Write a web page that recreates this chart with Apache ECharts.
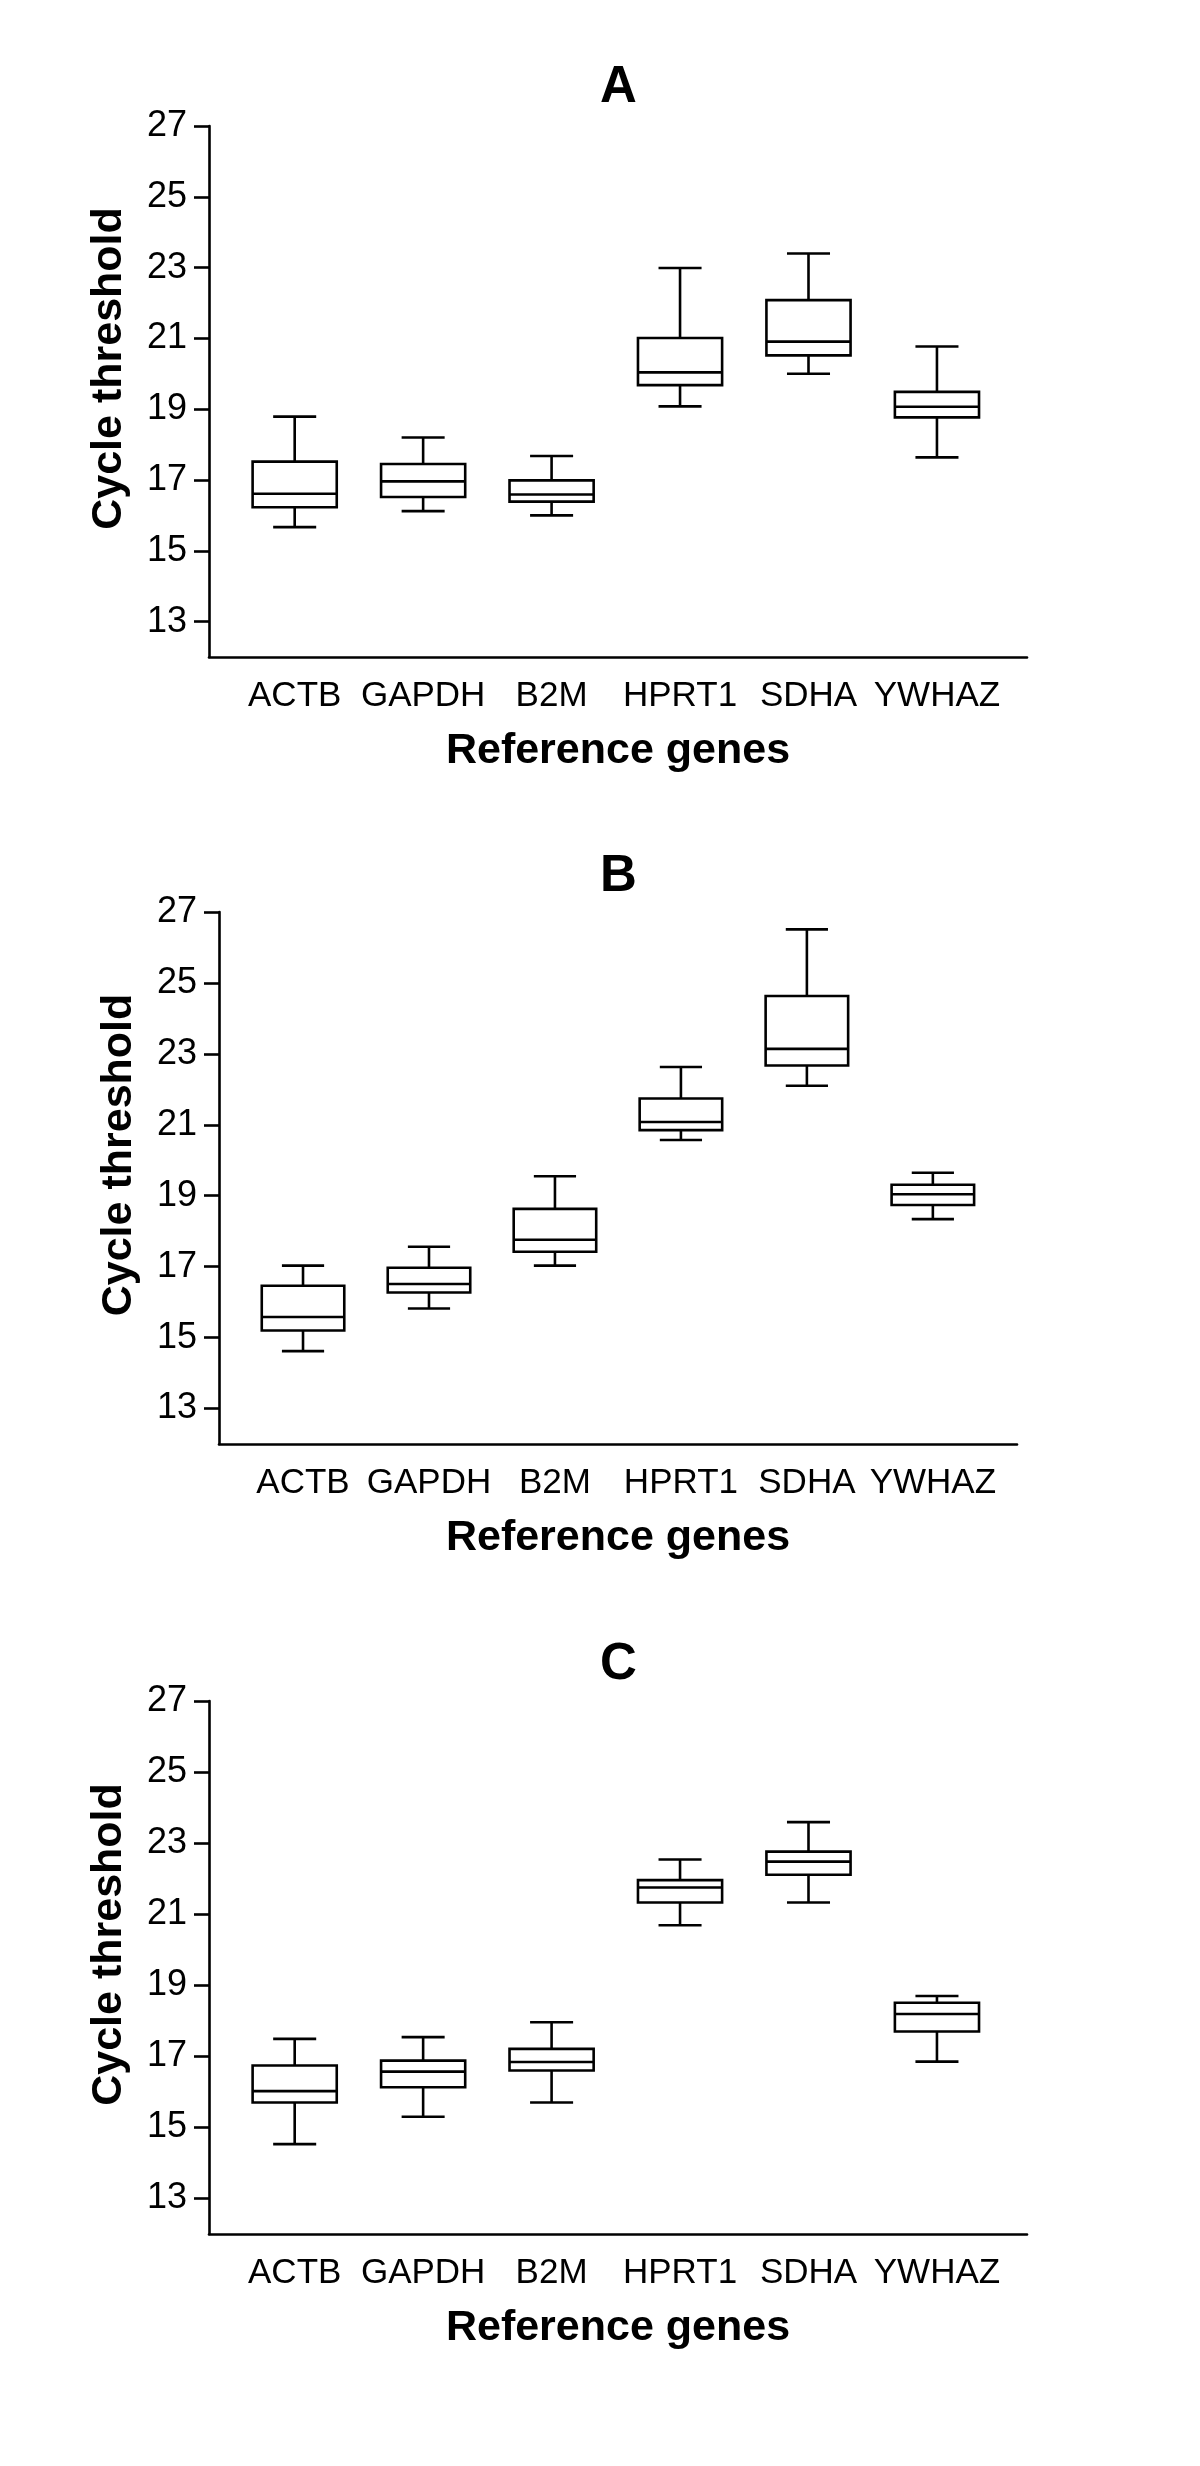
<!DOCTYPE html>
<html>
<head>
<meta charset="utf-8">
<script src="https://cdn.jsdelivr.net/npm/echarts@6/dist/echarts.min.js"></script>
<style>
html,body{margin:0;padding:0;background:#fff;}
#chart{width:1200px;height:2466px;}
</style>
</head>
<body>
<div id="chart"></div>
<script>
// ---------- data ----------
const genes = ['ACTB', 'GAPDH', 'B2M', 'HPRT1', 'SDHA', 'YWHAZ'];
const panelLetters = ['A', 'B', 'C'];
const yTicks = [13, 15, 17, 19, 21, 23, 25, 27];
const yAxisTitle = 'Cycle threshold';
const xAxisTitle = 'Reference genes';

// Panel A
const aMin    = [15.67, 16.12, 16.00, 19.08, 20.00, 17.64];
const aQ1     = [16.23, 16.52, 16.39, 19.68, 20.52, 18.77];
const aMedian = [16.61, 16.96, 16.59, 20.04, 20.91, 19.07];
const aQ3     = [17.52, 17.45, 16.99, 21.01, 22.08, 19.49];
const aMax    = [18.79, 18.20, 17.68, 22.99, 23.40, 20.77];

// Panel B
const bMin    = [14.62, 15.82, 17.03, 20.57, 22.10, 18.34];
const bQ1     = [15.20, 16.27, 17.42, 20.85, 22.67, 18.74];
const bMedian = [15.58, 16.51, 17.76, 21.08, 23.14, 19.04];
const bQ3     = [16.46, 16.97, 18.63, 21.74, 24.63, 19.31];
const bMax    = [17.03, 17.56, 19.55, 22.63, 26.51, 19.65];

// Panel C
const cMin    = [14.53, 15.30, 15.70, 20.69, 21.33, 16.85];
const cQ1     = [15.70, 16.13, 16.60, 21.33, 22.11, 17.70];
const cMedian = [16.02, 16.57, 16.84, 21.75, 22.48, 18.19];
const cQ3     = [16.74, 16.88, 17.21, 21.96, 22.76, 18.51];
const cMax    = [17.49, 17.54, 17.96, 22.54, 23.59, 18.70];

// ---------- layout ----------
const panels = [
  {min: aMin, q1: aQ1, med: aMedian, q3: aQ3, max: aMax},
  {min: bMin, q1: bQ1, med: bMedian, q3: bQ3, max: bMax},
  {min: cMin, q1: cQ1, med: cMedian, q3: cQ3, max: cMax}
];
const gridBoxes = [
  {left: 209, top: 126, width: 818, height: 531},
  {left: 219, top: 912, width: 798, height: 532},
  {left: 209, top: 1701, width: 818, height: 533}
];
const xRanges = [[0.333, 6.701], [0.333, 6.668], [0.333, 6.701]];
const titleTops = [62, 851, 1639];

const FONT = '"Liberation Sans", Arial, sans-serif';
const LW = 2.6;
const catPositions = genes.map((g, i) => i + 1);

function renderBox(params, api) {
  const x = api.value(0);
  const band = api.size([1, 0])[0];
  const bw = band * 0.655;
  const cw = band * 0.335;
  const pMin = api.coord([x, api.value(1)]);
  const pQ1 = api.coord([x, api.value(2)]);
  const pMed = api.coord([x, api.value(3)]);
  const pQ3 = api.coord([x, api.value(4)]);
  const pMax = api.coord([x, api.value(5)]);
  const cx = pMed[0];
  const st = {stroke: '#000', lineWidth: LW, fill: null};
  return {
    type: 'group',
    children: [
      {type: 'rect', shape: {x: cx - bw / 2, y: pQ3[1], width: bw, height: pQ1[1] - pQ3[1]},
       style: {stroke: '#000', lineWidth: LW, fill: 'rgba(0,0,0,0)'}},
      {type: 'line', shape: {x1: cx - bw / 2, y1: pMed[1], x2: cx + bw / 2, y2: pMed[1]}, style: st},
      {type: 'line', shape: {x1: cx, y1: pQ3[1], x2: cx, y2: pMax[1]}, style: st},
      {type: 'line', shape: {x1: cx, y1: pQ1[1], x2: cx, y2: pMin[1]}, style: st},
      {type: 'line', shape: {x1: cx - cw / 2, y1: pMax[1], x2: cx + cw / 2, y2: pMax[1]}, style: st},
      {type: 'line', shape: {x1: cx - cw / 2, y1: pMin[1], x2: cx + cw / 2, y2: pMin[1]}, style: st}
    ]
  };
}

const option = {
  backgroundColor: '#fff',
  animation: false,
  title: panelLetters.map((t, i) => ({
    text: t,
    left: 600,
    top: titleTops[i],
    padding: 0,
    textStyle: {fontSize: 51, fontWeight: 'bold', color: '#000', fontFamily: FONT}
  })),
  grid: gridBoxes.map(g => Object.assign({containLabel: false}, g)),
  xAxis: gridBoxes.map((g, i) => ({
    gridIndex: i,
    type: 'value',
    min: xRanges[i][0],
    max: xRanges[i][1],
    axisLine: {show: true, onZero: false, lineStyle: {color: '#000', width: LW}},
    axisTick: {show: false},
    splitLine: {show: false},
    axisLabel: {
      customValues: catPositions,
      formatter: v => genes[Math.round(v) - 1],
      color: '#000', fontSize: 35, fontFamily: FONT, margin: 22
    },
    name: xAxisTitle,
    nameLocation: 'middle',
    nameGap: 73,
    nameTextStyle: {fontSize: 43, fontWeight: 'bold', color: '#000', fontFamily: FONT}
  })),
  yAxis: gridBoxes.map((g, i) => ({
    gridIndex: i,
    type: 'value',
    min: 12,
    max: 27,
    axisLine: {show: true, onZero: false, lineStyle: {color: '#000', width: LW}},
    axisTick: {show: true, customValues: yTicks, length: 15, lineStyle: {color: '#000', width: LW}},
    axisLabel: {customValues: yTicks, color: '#000', fontSize: 36, fontFamily: FONT, margin: 22},
    splitLine: {show: false},
    name: yAxisTitle,
    nameLocation: 'middle',
    nameGap: 78,
    nameTextStyle: {fontSize: 43, fontWeight: 'bold', color: '#000', fontFamily: FONT, padding: [0, 0, 0, 46]}
  })),
  series: panels.map((p, i) => ({
    type: 'custom',
    xAxisIndex: i,
    yAxisIndex: i,
    renderItem: renderBox,
    encode: {x: 0, y: [1, 2, 3, 4, 5]},
    data: genes.map((g, k) => [k + 1, p.min[k], p.q1[k], p.med[k], p.q3[k], p.max[k]])
  }))
};

const chart = echarts.init(document.getElementById('chart'), null, {renderer: 'canvas'});
chart.setOption(option);
</script>
</body>
</html>
